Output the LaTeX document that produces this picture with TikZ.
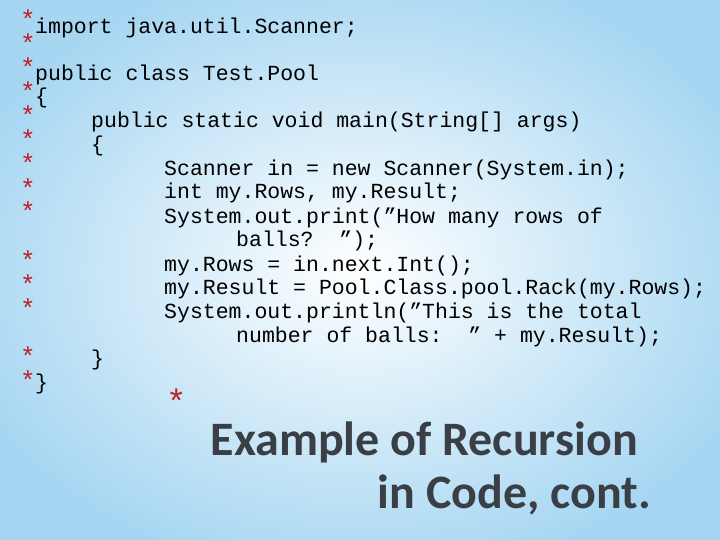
\documentclass[tikz,border=0pt]{standalone}
\usepackage{fontspec}
\setmainfont{Liberation Mono}[Ligatures=ResetAll]
\newfontfamily\titlefont{Carlito}
\definecolor{bgblue}{HTML}{A6D6F2}
\definecolor{astred}{HTML}{C0202A}
\definecolor{titlegray}{HTML}{3A3E45}
\newcommand{\dq}{"}
\begin{document}
\begin{tikzpicture}[x=1pt,y=-1pt,
  code/.style={anchor=base west,inner sep=0pt,font=\fontsize{21.5}{24}\selectfont},
  ast/.style={anchor=base west,inner sep=0pt,text=astred,font=\fontsize{26}{26}\selectfont}]
\useasboundingbox (0,0) rectangle (720,540);
\shade[inner color=white,outer color=bgblue] (-60,-40) rectangle (780,580);
% asterisks
\foreach \y [count=\i] in {29,53,77,101,125,149,173,197,221,269,293,317,365,389}
  \node[ast] (a\i) at (20,\y) {*};
% code
\node[code] (l1) at (35,34) {import java.util.Scanner;};
\node[code] (l2) at (35,81) {public class Test.Pool};
\node[code] (l3) at (35,104) {\{};
\node[code] (l4) at (91,128) {public static void main(String[] args)};
\node[code] (l5) at (91,152) {\{};
\node[code] (l6) at (164,176) {Scanner in = new Scanner(System.in);};
\node[code] (l7) at (164,199) {int my.Rows, my.Result;};
\node[code] (l8) at (164,223) {System.out.print(\dq How many rows of};
\node[code] (l9) at (236,247) {balls?~~\dq);};
\node[code] (l10) at (164,271) {my.Rows = in.next.Int();};
\node[code] (l11) at (164,294) {my.Result = Pool.Class.pool.Rack(my.Rows);};
\node[code] (l12) at (164,318) {System.out.println(\dq This is the total};
\node[code] (l13) at (236,342) {number of balls:~~\dq{} + my.Result);};
\node[code] (l14) at (91,365) {\}};
\node[code] (l15) at (35,389) {\}};
% title
\node[ast,font=\fontsize{34}{34}\selectfont] (ta) at (166,413) {*};
\node[anchor=base east,inner sep=0pt,text=titlegray,font=\titlefont\bfseries\fontsize{48}{48}\selectfont] (t1) at (638,455) {Example of Recursion};
\node[anchor=base east,inner sep=0pt,text=titlegray,font=\titlefont\bfseries\fontsize{48}{48}\selectfont] (t2) at (651,508) {in Code, cont.};
\end{tikzpicture}
\end{document}
